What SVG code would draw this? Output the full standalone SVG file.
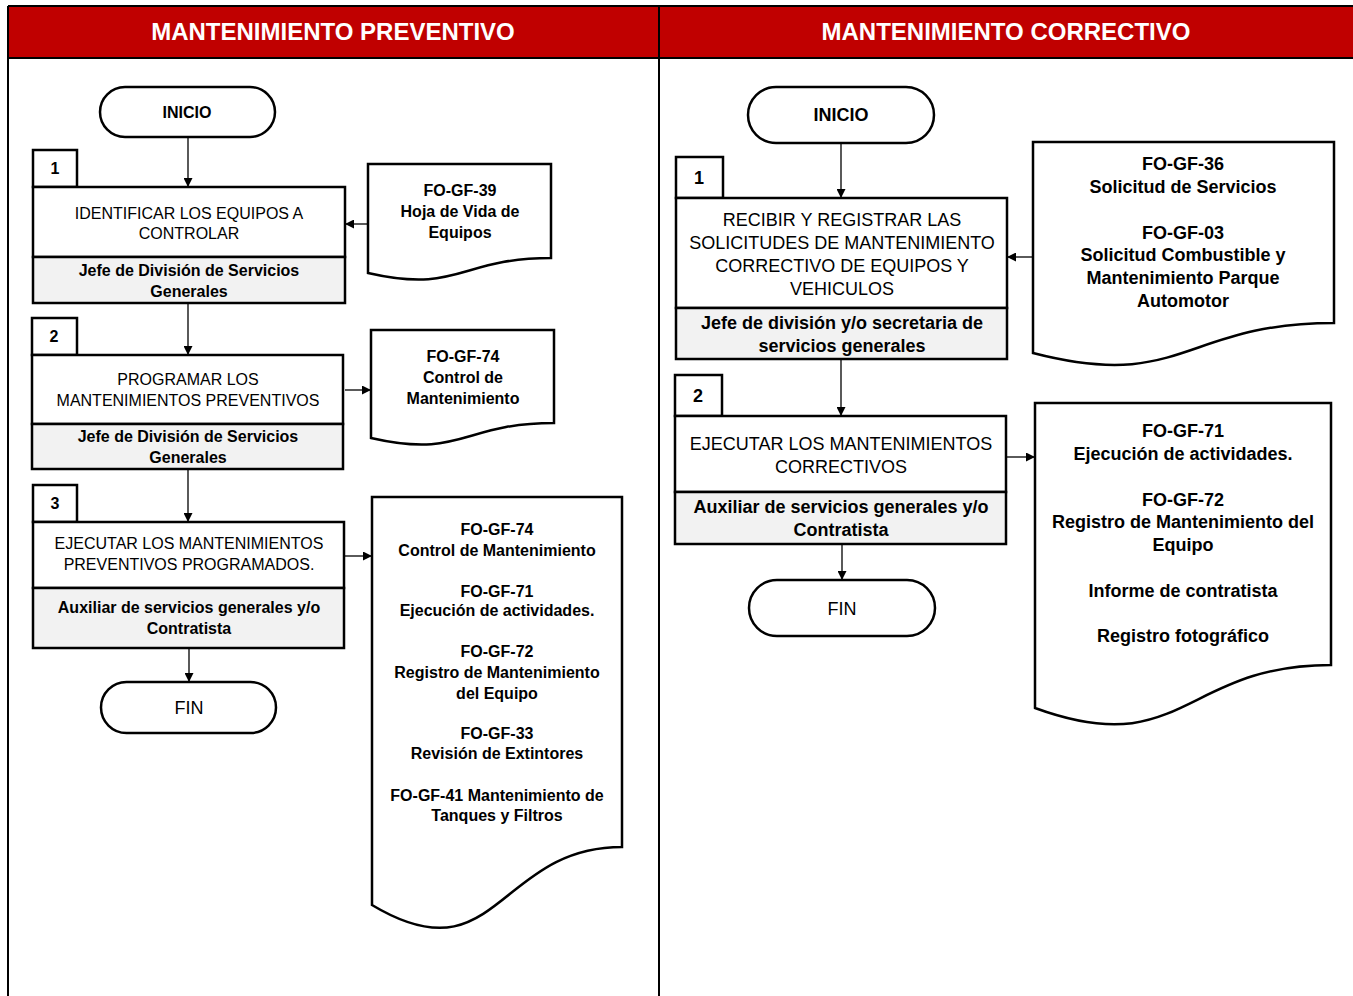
<svg xmlns="http://www.w3.org/2000/svg" width="1353" height="996" viewBox="0 0 1353 996">
<defs>
<style>
text{font-family:"Liberation Sans Narrow","Arial Narrow","Liberation Sans",Arial,sans-serif;font-stretch:condensed;text-anchor:middle;fill:#000}
.hdr{font-family:"Liberation Sans",Arial,sans-serif;font-stretch:normal;font-weight:bold;font-size:24px;fill:#fff}
.term{fill:#fff;stroke:#000;stroke-width:2.5}
.box{fill:#fff;stroke:#000;stroke-width:2.5}
.gray{fill:#f2f2f2;stroke:#000;stroke-width:2.5}
.doc{fill:#fff;stroke:#000;stroke-width:2.5}
.b{font-weight:bold}
.s16{font-size:16px}
.s18{font-size:18px}
.conn path{fill:none;stroke:#000;stroke-width:1.3}
</style>
<marker id="arr" viewBox="0 0 10 10" refX="10" refY="5" markerWidth="9" markerHeight="9" markerUnits="userSpaceOnUse" orient="auto">
<path d="M0,0 L10,5 L0,10 Z" fill="#000"/>
</marker>
</defs>
<rect x="0" y="0" width="1353" height="996" fill="#fff"/>
<g id="frame">
<rect x="8" y="6" width="1345" height="52" fill="#c00000"/>
<path d="M8,6 H1353 M8,58 H1353 M8,6 V996 M659,6 V996" fill="none" stroke="#000" stroke-width="2"/>
<text class="hdr" x="333" y="40">MANTENIMIENTO PREVENTIVO</text>
<text class="hdr" x="1006" y="40">MANTENIMIENTO CORRECTIVO</text>
</g>

<g class="conn" id="connectors">
<path d="M188,137 V187" marker-end="url(#arr)"/>
<path d="M368,224 H345" marker-end="url(#arr)"/>
<path d="M188,303 V355" marker-end="url(#arr)"/>
<path d="M345,390 H371" marker-end="url(#arr)"/>
<path d="M188,469 V522" marker-end="url(#arr)"/>
<path d="M345,556 H372" marker-end="url(#arr)"/>
<path d="M189,648 V682" marker-end="url(#arr)"/>
<path d="M841,143 V198" marker-end="url(#arr)"/>
<path d="M1033,257 H1007" marker-end="url(#arr)"/>
<path d="M841,359 V416" marker-end="url(#arr)"/>
<path d="M1006,457 H1035" marker-end="url(#arr)"/>
<path d="M842,544 V580" marker-end="url(#arr)"/>
</g>

<!-- Left column -->
<g id="p-inicio">
<rect class="term" x="100" y="87" width="175" height="50" rx="25"/>
<text class="b s16" x="187" y="118">INICIO</text>
</g>
<g id="p-step1">
<rect class="box" x="33" y="150" width="44" height="37"/>
<text class="b s16" x="55" y="174">1</text>
<rect class="box" x="33" y="187" width="312" height="70"/>
<rect class="gray" x="33" y="257" width="312" height="46"/>
<text class="s16" x="189" y="219">IDENTIFICAR  LOS EQUIPOS  A</text>
<text class="s16" x="189" y="239">CONTROLAR</text>
<text class="b s16" x="189" y="276">Jefe de División  de Servicios</text>
<text class="b s16" x="189" y="297">Generales</text>
</g>
<g id="p-doc1">
<path class="doc" d="M368,164 H551 V258 C459.5,258 459.5,294 368,273 Z"/>
<text class="b s16" x="460" y="196">FO-GF-39</text>
<text class="b s16" x="460" y="217">Hoja de Vida de</text>
<text class="b s16" x="460" y="238">Equipos</text>
</g>
<g id="p-step2">
<rect class="box" x="32" y="318" width="45" height="37"/>
<text class="b s16" x="54" y="342">2</text>
<rect class="box" x="32" y="355" width="311" height="69"/>
<rect class="gray" x="32" y="424" width="311" height="45"/>
<text class="s16" x="188" y="385">PROGRAMAR  LOS</text>
<text class="s16" x="188" y="406">MANTENIMIENTOS  PREVENTIVOS</text>
<text class="b s16" x="188" y="442">Jefe de División  de Servicios</text>
<text class="b s16" x="188" y="463">Generales</text>
</g>
<g id="p-doc2">
<path class="doc" d="M371,330 H554 V423 C462.5,423 462.5,459 371,438 Z"/>
<text class="b s16" x="463" y="362">FO-GF-74</text>
<text class="b s16" x="463" y="383">Control  de</text>
<text class="b s16" x="463" y="404">Mantenimiento</text>
</g>
<g id="p-step3">
<rect class="box" x="33" y="485" width="44" height="37"/>
<text class="b s16" x="55" y="509">3</text>
<rect class="box" x="33" y="522" width="311" height="66"/>
<rect class="gray" x="33" y="588" width="311" height="60"/>
<text class="s16" x="189" y="549">EJECUTAR LOS MANTENIMIENTOS</text>
<text class="s16" x="189" y="570">PREVENTIVOS  PROGRAMADOS.</text>
<text class="b s16" x="189" y="613">Auxiliar  de  servicios generales y/o</text>
<text class="b s16" x="189" y="634">Contratista</text>
</g>
<g id="p-doc3">
<path class="doc" d="M372,497 H622 V847 C497,847 497,980 372,905 Z"/>
<text class="b s16" x="497" y="535">FO-GF-74</text>
<text class="b s16" x="497" y="556">Control  de Mantenimiento</text>
<text class="b s16" x="497" y="597">FO-GF-71</text>
<text class="b s16" x="497" y="616">Ejecución  de actividades.</text>
<text class="b s16" x="497" y="657">FO-GF-72</text>
<text class="b s16" x="497" y="678">Registro de Mantenimiento</text>
<text class="b s16" x="497" y="699">del Equipo</text>
<text class="b s16" x="497" y="739">FO-GF-33</text>
<text class="b s16" x="497" y="759">Revisión  de Extintores</text>
<text class="b s16" x="497" y="801">FO-GF-41  Mantenimiento de</text>
<text class="b s16" x="497" y="821">Tanques y Filtros</text>
</g>
<g id="p-fin">
<rect class="term" x="101" y="682" width="175" height="51" rx="25.5"/>
<text class="s18" x="189" y="714">FIN</text>
</g>

<!-- Right column -->
<g id="c-inicio">
<rect class="term" x="748" y="87" width="186" height="56" rx="28"/>
<text class="b s18" x="841" y="121">INICIO</text>
</g>
<g id="c-step1">
<rect class="box" x="676" y="157" width="47" height="41"/>
<text class="b s18" x="699" y="184">1</text>
<rect class="box" x="676" y="198" width="331" height="110"/>
<rect class="gray" x="676" y="308" width="331" height="51"/>
<text class="s18" x="842" y="226">RECIBIR Y REGISTRAR  LAS</text>
<text class="s18" x="842" y="249">SOLICITUDES DE MANTENIMIENTO</text>
<text class="s18" x="842" y="272">CORRECTIVO DE EQUIPOS Y</text>
<text class="s18" x="842" y="295">VEHICULOS</text>
<text class="b s18" x="842" y="329">Jefe de división  y/o  secretaria de</text>
<text class="b s18" x="842" y="352">servicios generales</text>
</g>
<g id="c-doc1">
<path class="doc" d="M1033,142 H1334 V323 C1183.5,323 1183.5,392 1033,353 Z"/>
<text class="b s18" x="1183" y="170">FO-GF-36</text>
<text class="b s18" x="1183" y="193">Solicitud  de Servicios</text>
<text class="b s18" x="1183" y="239">FO-GF-03</text>
<text class="b s18" x="1183" y="261">Solicitud  Combustible  y</text>
<text class="b s18" x="1183" y="284">Mantenimiento Parque</text>
<text class="b s18" x="1183" y="307">Automotor</text>
</g>
<g id="c-step2">
<rect class="box" x="675" y="375" width="47" height="41"/>
<text class="b s18" x="698" y="402">2</text>
<rect class="box" x="675" y="416" width="331" height="76"/>
<rect class="gray" x="675" y="492" width="331" height="52"/>
<text class="s18" x="841" y="450">EJECUTAR LOS MANTENIMIENTOS</text>
<text class="s18" x="841" y="473">CORRECTIVOS</text>
<text class="b s18" x="841" y="513">Auxiliar de  servicios generales y/o</text>
<text class="b s18" x="841" y="536">Contratista</text>
</g>
<g id="c-doc2">
<path class="doc" d="M1035,403 H1331 V665 C1183,665 1183,762 1035,708 Z"/>
<text class="b s18" x="1183" y="437">FO-GF-71</text>
<text class="b s18" x="1183" y="460">Ejecución  de actividades.</text>
<text class="b s18" x="1183" y="506">FO-GF-72</text>
<text class="b s18" x="1183" y="528">Registro de Mantenimiento del</text>
<text class="b s18" x="1183" y="551">Equipo</text>
<text class="b s18" x="1183" y="597">Informe de contratista</text>
<text class="b s18" x="1183" y="642">Registro fotográfico</text>
</g>
<g id="c-fin">
<rect class="term" x="749" y="580" width="186" height="56" rx="28"/>
<text class="s18" x="842" y="615">FIN</text>
</g>
</svg>
